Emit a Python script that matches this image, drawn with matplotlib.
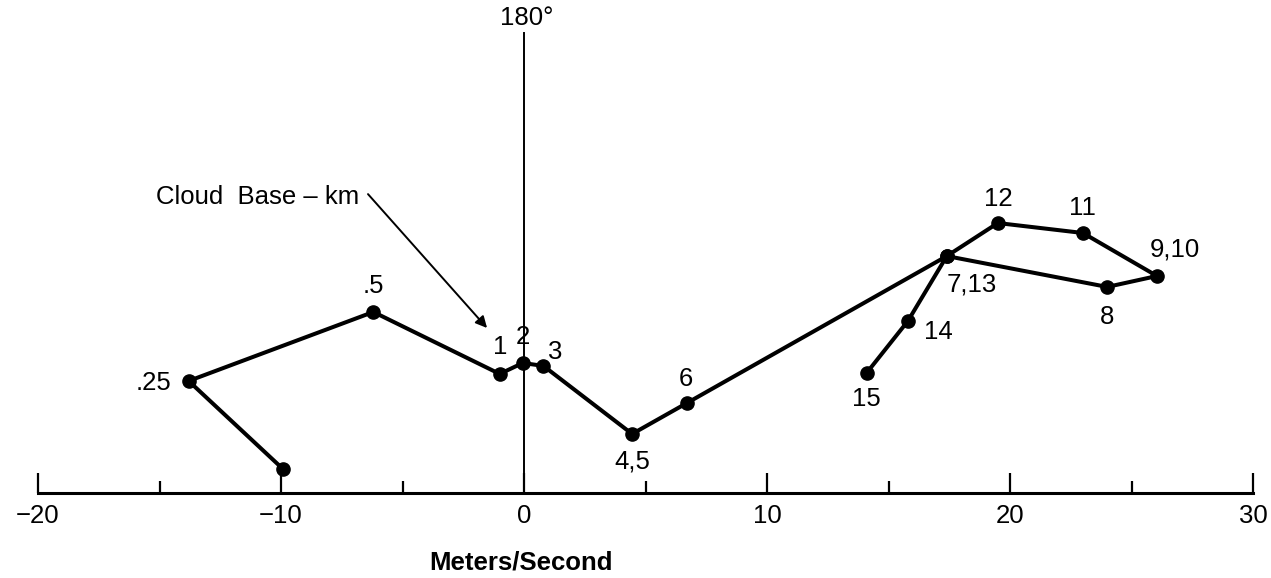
import matplotlib
matplotlib.use("Agg")
import matplotlib.pyplot as plt

plt.rcParams['font.family'] = ['Liberation Sans', 'DejaVu Sans']

# hodograph points in path order (m/s)
u = [-9.9, -13.8, -6.2, -1.0, -0.05, 0.8, 4.45, 6.7, 17.4, 24.0, 26.05, 23.0, 19.5, 17.4, 15.8, 14.1]
v = [0.97, 4.61, 7.45, 4.90, 5.35, 5.23, 2.43, 3.70, 9.75, 8.48, 8.93, 10.70, 11.11, 9.75, 7.08, 4.94]

# labels: (text, index of point, offset in pixels)
point_labels = [
    ('.25', 1, (-35, -2)),
    ('.5', 2, (0, 26)),
    ('1', 3, (0, 27)),
    ('2', 4, (0, 26)),
    ('3', 5, (12, 14)),
    ('4,5', 6, (0, -28)),
    ('6', 7, (-1, 24)),
    ('7,13', 8, (25, -28)),
    ('8', 9, (0, -30)),
    ('9,10', 10, (18, 27)),
    ('11', 11, (0, 25)),
    ('12', 12, (0, 24)),
    ('14', 14, (30, -11)),
    ('15', 15, (0, -26)),
]

major_ticks = [-20, -10, 0, 10, 20, 30]
minor_ticks = [-15, -5, 5, 15, 25]
tick_labels = ['\u221220', '\u221210', '0', '10', '20', '30']

W, H = 1271, 578
scale = 24.3      # pixels per m/s
x0_px, y0_px = 524, 493
fs = 18.5

fig = plt.figure(figsize=(W / 100, H / 100), dpi=100)
ax = fig.add_axes([0, 0, 1, 1])
ax.set_xlim(-x0_px / scale, (W - x0_px) / scale)
ax.set_ylim(-(H - y0_px) / scale, y0_px / scale)
ax.patch.set_alpha(0)

# axes drawn as crossing spines
ax.spines['top'].set_visible(False)
ax.spines['right'].set_visible(False)
ax.spines['bottom'].set_position(('data', 0))
ax.spines['bottom'].set_bounds(-20, 30)
ax.spines['bottom'].set_linewidth(2.2)
ax.spines['left'].set_position(('data', 0))
ax.spines['left'].set_bounds(0, 18.93)
ax.spines['left'].set_linewidth(1.4)
ax.set_yticks([])

ax.set_xticks(major_ticks)
ax.set_xticklabels(tick_labels, fontsize=fs)
ax.set_xticks(minor_ticks, minor=True)
ax.tick_params(axis='x', which='major', direction='in', length=14.5, width=1.6, pad=8)
ax.tick_params(axis='x', which='minor', direction='in', length=8.6, width=1.6)

ax.plot(u, v, color='black', lw=2.9, marker='o', markersize=9.5,
        solid_joinstyle='round', zorder=3)

for text, i, (dx, dy) in point_labels:
    ax.annotate(text, (u[i], v[i]), xytext=(dx, dy), textcoords='offset pixels',
                ha='center', va='center', fontsize=fs)

ax.annotate('180°', (0, 18.93), xytext=(3, 3), textcoords='offset pixels',
            ha='center', va='bottom', fontsize=fs)

# label and its pointer
ax.text(-6.8, 12.18, 'Cloud  Base \u2013 km', ha='right', va='center', fontsize=fs)
ax.annotate('', xy=(-1.52, 6.79), xytext=(-6.42, 12.3),
            arrowprops=dict(arrowstyle='-|>', color='black', lw=1.4,
                            mutation_scale=17, shrinkA=0, shrinkB=0))

fig.text(521 / W, 1 - 563 / H, 'Meters/Second', ha='center', va='center',
         fontsize=fs, fontweight='bold')

fig.savefig('out.png', dpi=100)
